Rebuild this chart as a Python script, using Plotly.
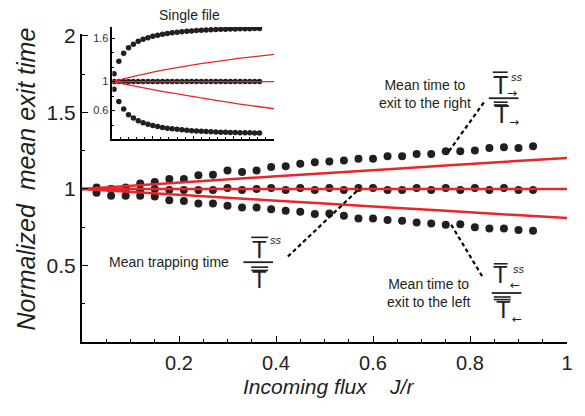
import plotly.graph_objects as go

# ---------------- data ----------------
flux = [0.03, 0.06, 0.09, 0.12, 0.15, 0.18, 0.21, 0.24, 0.27, 0.30, 0.33,
        0.36, 0.39, 0.42, 0.45, 0.48, 0.51, 0.54, 0.57, 0.60, 0.63, 0.66,
        0.69, 0.72, 0.75, 0.78, 0.81, 0.84, 0.87, 0.90, 0.93]
exit_right = [1.01, 1.00, 1.01, 1.035, 1.045, 1.065, 1.065, 1.089, 1.093, 1.121, 1.11,
              1.121, 1.143, 1.149, 1.164, 1.175, 1.18, 1.186, 1.197, 1.197, 1.214, 1.214,
              1.229, 1.229, 1.247, 1.247, 1.251, 1.268, 1.273, 1.268, 1.279]
trapping = [1.0, 1.0, 1.0, 0.993, 1.0, 0.993, 0.993, 0.993, 0.993, 1.006, 0.993,
            1.0, 1.006, 0.993, 1.006, 0.993, 1.006, 0.993, 1.006, 1.006, 0.993, 0.993,
            1.006, 0.993, 1.006, 0.993, 1.006, 0.993, 1.006, 0.993, 0.993]
exit_left = [0.975, 0.955, 0.955, 0.955, 0.95, 0.927, 0.922, 0.905, 0.905, 0.89, 0.879,
             0.879, 0.868, 0.857, 0.851, 0.836, 0.84, 0.825, 0.807, 0.807, 0.797, 0.792,
             0.781, 0.775, 0.766, 0.77, 0.749, 0.742, 0.742, 0.732, 0.727]

theory_x = [0.0, 0.25, 0.5, 0.75, 1.0]
theory_right = [1.0, 1.052, 1.103, 1.153, 1.203]
theory_trap = [1.0, 1.0, 1.0, 1.0, 1.0]
theory_left = [1.0, 0.952, 0.905, 0.857, 0.81]

# inset: single file
sf_flux = [0.01, 0.04, 0.07, 0.10, 0.13, 0.16, 0.19, 0.22, 0.25, 0.28, 0.31,
           0.34, 0.37, 0.40, 0.43, 0.46, 0.49, 0.52, 0.55, 0.58, 0.61, 0.64,
           0.67, 0.70, 0.73, 0.76, 0.79, 0.82, 0.85, 0.88, 0.91]
sf_right = [1.11, 1.28, 1.39, 1.465, 1.515, 1.555, 1.585, 1.605, 1.625, 1.64, 1.652,
            1.663, 1.672, 1.68, 1.687, 1.693, 1.698, 1.703, 1.707, 1.711, 1.714, 1.717,
            1.72, 1.722, 1.724, 1.726, 1.728, 1.729, 1.73, 1.731, 1.732]
sf_trap = [1.0] * 31
sf_left = [0.895, 0.726, 0.621, 0.545, 0.498, 0.461, 0.434, 0.412, 0.394, 0.38, 0.368,
           0.358, 0.349, 0.342, 0.335, 0.329, 0.324, 0.319, 0.315, 0.311, 0.308, 0.305,
           0.303, 0.301, 0.299, 0.297, 0.296, 0.295, 0.294, 0.293, 0.292]
sf_theory_x = [0.0, 0.25, 0.5, 0.75, 1.0]
sf_theory_right = [1.0, 1.13, 1.23, 1.31, 1.374]
sf_theory_trap = [1.0, 1.0, 1.0, 1.0, 1.0]
sf_theory_left = [1.0, 0.89, 0.795, 0.705, 0.626]

x_ticks = [0.2, 0.4, 0.6, 0.8, 1.0]
x_ticklabels = ["0.2", "0.4", "0.6", "0.8", "1"]
y_ticks = [0.5, 1.0, 1.5, 2.0]
y_ticklabels = ["0.5", "1", "1.5", "2"]
inset_y_ticks = [0.6, 1.0, 1.6]
inset_y_ticklabels = ["0.6", "1", "1.6"]

# ---------------- layout helpers ----------------
W, H = 585, 416
ML, MR, MT, MB = 82, 13, 20, 74
PW, PH = W - ML - MR, H - MT - MB


def px(x):
    return (x - ML) / PW


def py(y):
    return (H - MB - y) / PH


DOT = "#231f20"
RED = "#e8262b"
FONT = "Liberation Sans"
TXT = "#231f20"

fig = go.Figure()

for ys in (exit_right, trapping, exit_left):
    fig.add_trace(go.Scatter(x=flux, y=ys, mode="markers",
                             marker=dict(size=8, color=DOT), showlegend=False,
                             xaxis="x", yaxis="y"))
for ys in (theory_right, theory_trap, theory_left):
    fig.add_trace(go.Scatter(x=theory_x, y=ys, mode="lines",
                             line=dict(color=RED, width=2.5, shape="spline"),
                             showlegend=False, xaxis="x", yaxis="y"))

for ys in (sf_right, sf_trap, sf_left):
    fig.add_trace(go.Scatter(x=sf_flux, y=ys, mode="markers",
                             marker=dict(size=5.5, color=DOT), showlegend=False,
                             xaxis="x2", yaxis="y2"))
for ys in (sf_theory_right, sf_theory_trap, sf_theory_left):
    fig.add_trace(go.Scatter(x=sf_theory_x, y=ys, mode="lines",
                             line=dict(color=RED, width=1.3, shape="spline"),
                             showlegend=False, xaxis="x2", yaxis="y2"))

main_y_top = 2.013
fig.update_layout(
    width=W, height=H,
    margin=dict(l=ML, r=MR, t=MT, b=MB),
    paper_bgcolor="white", plot_bgcolor="white",
    font=dict(family=FONT, color=TXT),
    xaxis=dict(range=[0, 1], domain=[0, 1], showgrid=False, zeroline=False,
               showline=True, linecolor="black", linewidth=2,
               ticks="inside", ticklen=6, tickwidth=1.2, tickcolor="black",
               tickvals=x_ticks, ticktext=x_ticklabels,
               tickfont=dict(size=20, color="#222"), ticklabelstandoff=2,
               minor=dict(ticks="inside", dtick=0.05, ticklen=3, tickwidth=1, tickcolor="black"),
               anchor="y"),
    yaxis=dict(range=[0, main_y_top], domain=[0, (main_y_top * 154) / PH],
               showgrid=False, zeroline=False,
               showline=True, linecolor="black", linewidth=2,
               ticks="inside", ticklen=6, tickwidth=1.2, tickcolor="black",
               tickvals=y_ticks, ticktext=y_ticklabels,
               tickfont=dict(size=21, color="#222"),
               minor=dict(ticks="inside", dtick=0.25, ticklen=3, tickwidth=1, tickcolor="black"),
               anchor="x"),
    xaxis2=dict(range=[0, 1], domain=[px(112.7), px(276)], anchor="y2",
                showgrid=False, zeroline=False, showline=True,
                linecolor="black", linewidth=1.5,
                ticks="inside", ticklen=3, tickwidth=1, tickcolor="black", dtick=0.25,
                showticklabels=False,
                minor=dict(ticks="inside", dtick=0.05, ticklen=2, tickwidth=0.8, tickcolor="black")),
    yaxis2=dict(range=[0.215, 1.753], domain=[py(137.3), py(25)], anchor="x2",
                showgrid=False, zeroline=False, showline=True,
                linecolor="black", linewidth=1.5,
                ticks="inside", ticklen=3, tickwidth=1, tickcolor="black",
                tickvals=inset_y_ticks, ticktext=inset_y_ticklabels,
                tickfont=dict(size=11, color="#333"),
                minor=dict(ticks="inside", dtick=0.2, ticklen=2, tickwidth=0.8, tickcolor="black")),
)

ann = []


def text(x, y, s, size=14, xanchor="center", yanchor="middle", italic=False, family=FONT, angle=0, color=TXT):
    ann.append(dict(x=px(x), y=py(y), xref="paper", yref="paper", text=s, showarrow=False,
                    xanchor=xanchor, yanchor=yanchor, textangle=angle,
                    font=dict(size=size, family=family, color=color,
                              style="italic" if italic else "normal")))


# axis titles
text(331, 387, "Incoming flux\u00a0\u00a0\u00a0\u00a0J/r", size=21, italic=True)
text(25, 178, "Normalized\u00a0\u00a0mean exit time", size=25, italic=True, angle=-90)

# inset title
text(191, 13, "Single file", size=14)

# labels
text(429, 92.5, "Mean time to<br>exit to the right", size=14)
text(107, 262, "Mean trapping time", size=14, xanchor="left")
text(432, 293, "Mean time to<br>exit to the left", size=14)

shapes = []


def hline(x0, x1, y, w=1.6):
    shapes.append(dict(type="line", xref="paper", yref="paper",
                       x0=px(x0), x1=px(x1), y0=py(y), y1=py(y),
                       line=dict(color=TXT, width=w)))


def dline(x0, y0, x1, y1):
    shapes.append(dict(type="line", xref="paper", yref="paper",
                       x0=px(x0), x1=px(x1), y0=py(y0), y1=py(y1),
                       line=dict(color="black", width=2.2, dash="4px,3px")))


# right fraction  (T^ss_-> / T_->)
hline(497, 512, 70.5)
text(505, 83, "T", size=25)
text(513, 75, "ss", size=11, italic=True, xanchor="left")
text(516.5, 91.5, "→", size=12, family="DejaVu Sans")
hline(493, 523, 96.7, 1.8)
hline(498, 512, 100.7)
hline(498, 512, 103.5)
text(506, 113, "T", size=25)
text(518, 120.5, "→", size=12, family="DejaVu Sans")

# trapping fraction
hline(253, 270, 236.7)
text(261.7, 249, "T", size=24)
text(270, 239.5, "ss", size=11, italic=True, xanchor="left")
hline(245, 275, 261.7, 1.8)
hline(253, 270, 266.7)
hline(253, 270, 270)
text(261.7, 279.5, "T", size=24)

# left fraction
hline(498, 512, 263.3)
text(505, 274.5, "T", size=24)
text(515, 269, "ss", size=11, italic=True, xanchor="left")
text(519.5, 284.5, "←", size=12, family="DejaVu Sans")
hline(496, 526, 292.7, 1.8)
hline(498, 515, 296.7)
hline(498, 515, 299.3)
text(508, 309.5, "T", size=24)
text(521.5, 319, "←", size=12, family="DejaVu Sans")

# dashed leader lines
dline(488, 101, 452, 151)
dline(290, 256, 363, 187)
dline(455, 224, 487, 277)

fig.update_layout(annotations=ann, shapes=shapes)
fig.write_html("out.html", config={"displayModeBar": False},
               post_script="document.body.style.margin='0';document.body.style.overflow='hidden';")
